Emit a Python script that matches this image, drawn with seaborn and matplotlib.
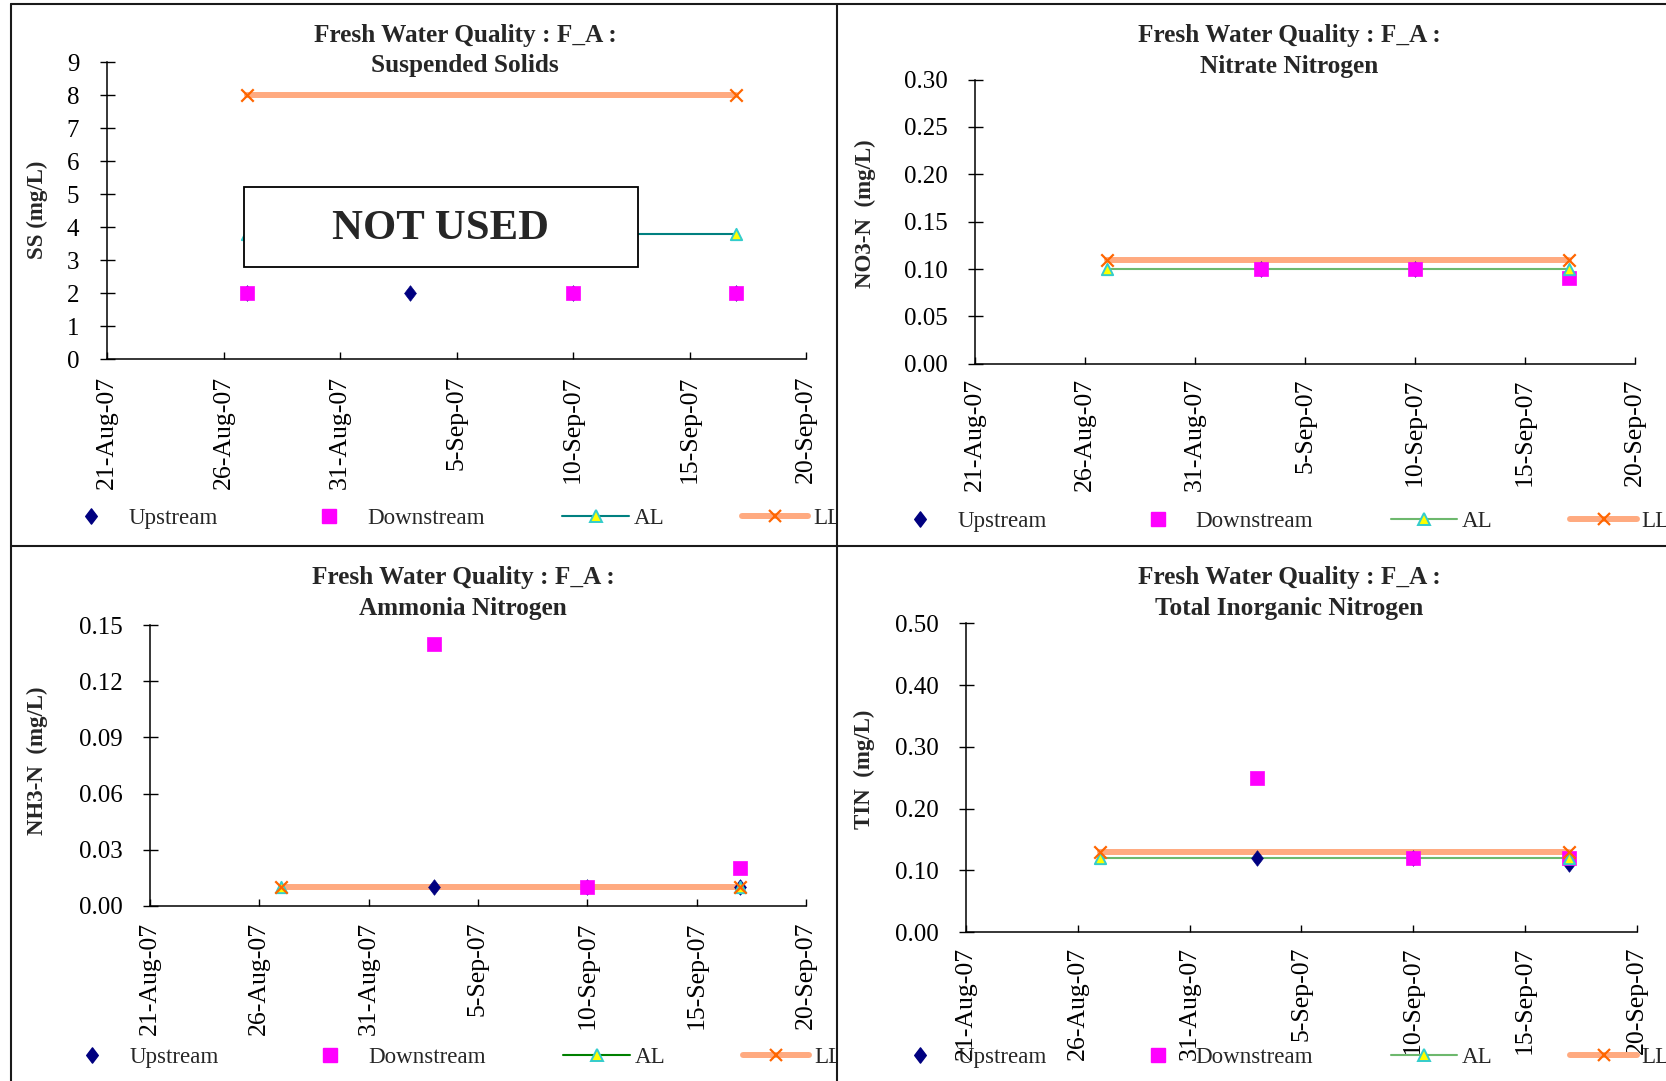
import numpy as np
import pandas as pd
import matplotlib
matplotlib.use("Agg")
import matplotlib.pyplot as plt
import seaborn as sns
from matplotlib.lines import Line2D
from matplotlib.patches import Rectangle
from matplotlib.path import Path
from matplotlib.markers import MarkerStyle
from matplotlib.transforms import Bbox, TransformedBbox

# ---------------- data ----------------
sample_dates = ["2007-08-27", "2007-09-03", "2007-09-10", "2007-09-17"]
limit_dates = ["2007-08-27", "2007-09-17"]
xtick_dates = ["2007-08-21", "2007-08-26", "2007-08-31", "2007-09-05",
               "2007-09-10", "2007-09-15", "2007-09-20"]
xtick_labels = ["21-Aug-07", "26-Aug-07", "31-Aug-07", "5-Sep-07",
                "10-Sep-07", "15-Sep-07", "20-Sep-07"]
series_names = ["Upstream", "Downstream", "AL", "LL"]
title_line1 = "Fresh Water Quality : F_A :"

ss_title = "Suspended Solids"
ss_ylabel = "SS (mg/L)"
ss_upstream = [2, 2, 2, 2]
ss_downstream = [2, np.nan, 2, 2]
ss_al = [3.8, 3.8]
ss_ll = [8, 8]
ss_yticks = [0, 1, 2, 3, 4, 5, 6, 7, 8, 9]
ss_yticklabels = ["0", "1", "2", "3", "4", "5", "6", "7", "8", "9"]

no3_title = "Nitrate Nitrogen"
no3_ylabel = "NO3-N  (mg/L)"
no3_upstream = [np.nan, 0.10, 0.10, np.nan]
no3_downstream = [np.nan, 0.10, 0.10, 0.09]
no3_al = [0.10, 0.10]
no3_ll = [0.11, 0.11]
no3_yticks = [0.0, 0.05, 0.10, 0.15, 0.20, 0.25, 0.30]
no3_yticklabels = ["0.00", "0.05", "0.10", "0.15", "0.20", "0.25", "0.30"]

nh3_title = "Ammonia Nitrogen"
nh3_ylabel = "NH3-N  (mg/L)"
nh3_upstream = [np.nan, 0.01, 0.01, 0.01]
nh3_downstream = [np.nan, 0.14, 0.01, 0.02]
nh3_al = [0.01, 0.01]
nh3_ll = [0.01, 0.01]
nh3_yticks = [0.0, 0.03, 0.06, 0.09, 0.12, 0.15]
nh3_yticklabels = ["0.00", "0.03", "0.06", "0.09", "0.12", "0.15"]

tin_title = "Total Inorganic Nitrogen"
tin_ylabel = "TIN  (mg/L)"
tin_upstream = [np.nan, 0.12, 0.12, 0.11]
tin_downstream = [np.nan, 0.25, 0.12, 0.12]
tin_al = [0.12, 0.12]
tin_ll = [0.13, 0.13]
tin_yticks = [0.0, 0.10, 0.20, 0.30, 0.40, 0.50]
tin_yticklabels = ["0.00", "0.10", "0.20", "0.30", "0.40", "0.50"]

not_used_text = "NOT USED"

# ---------------- style ----------------
sns.set_theme(style="white")
plt.rcParams["font.family"] = ["Liberation Serif", "DejaVu Serif"]
plt.rcParams["axes.linewidth"] = 1.1

W, H = 1666, 1081
fig = plt.figure(figsize=(W / 100, H / 100), dpi=100)
fig.patch.set_facecolor("white")


def fx(x):
    return x / W


def fy(y):
    return 1 - y / H


UP_COLOR = "#000080"
DOWN_COLOR = "#FF00FF"
LL_COLOR = "#FFAA80"
LLX_COLOR = "#FF6600"
TRI_FACE = "#FFFF00"
TRI_EDGE = "#33CCCC"

diamond = MarkerStyle(Path([(0, 1), (0.76, 0), (0, -1), (-0.76, 0), (0, 1)],
                           [1, 2, 2, 2, 79]))

panels = [
    dict(left=107, right=806, top=62.4, bottom=359.5,
         up=ss_upstream, down=ss_downstream, al=ss_al, ll=ss_ll,
         yt=ss_yticks, ytl=ss_yticklabels, title=ss_title, ylabel=ss_ylabel,
         al_color="#008080", title_x=465, title_y=(35.5, 65.5),
         ylab_xy=(37.5, 210), leg_x=58, leg_y=518, xpad=11.5, clip=836.5),
    dict(left=975, right=1635, top=79.6, bottom=363.7,
         up=no3_upstream, down=no3_downstream, al=no3_al, ll=no3_ll,
         yt=no3_yticks, ytl=no3_yticklabels, title=no3_title, ylabel=no3_ylabel,
         al_color="#6DB86D", title_x=1289.5, title_y=(35.5, 66),
         ylab_xy=(865, 214), leg_x=886.5, leg_y=521, xpad=10.5, clip=None),
    dict(left=150, right=806, top=625.2, bottom=905.8,
         up=nh3_upstream, down=nh3_downstream, al=nh3_al, ll=nh3_ll,
         yt=nh3_yticks, ytl=nh3_yticklabels, title=nh3_title, ylabel=nh3_ylabel,
         al_color="#008000", title_x=463, title_y=(577.5, 608.5),
         ylab_xy=(37.5, 761), leg_x=59, leg_y=1057.6, xpad=11.5, clip=836.5),
    dict(left=966, right=1636.5, top=623.2, bottom=932.3,
         up=tin_upstream, down=tin_downstream, al=tin_al, ll=tin_ll,
         yt=tin_yticks, ytl=tin_yticklabels, title=tin_title, ylabel=tin_ylabel,
         al_color="#6DB86D", title_x=1289.5, title_y=(577.5, 608.5),
         ylab_xy=(864.6, 769.5), leg_x=886.5, leg_y=1057.6, xpad=10.5, clip=None),
]

sd = pd.to_datetime(sample_dates)
ld = pd.to_datetime(limit_dates)
xt = pd.to_datetime(xtick_dates)

for p in panels:
    ax = fig.add_axes([fx(p["left"]), fy(p["bottom"]),
                       (p["right"] - p["left"]) / W,
                       (p["bottom"] - p["top"]) / H])
    ax.set_facecolor("white")

    # limit lines (drawn below the markers)
    sns.lineplot(x=ld, y=p["al"], ax=ax, color=p["al_color"], linewidth=1.5,
                 estimator=None, zorder=2, legend=False)
    sns.lineplot(x=ld, y=p["ll"], ax=ax, color=LL_COLOR, linewidth=4.3,
                 estimator=None, zorder=2.1, legend=False)

    # markers
    sns.scatterplot(x=sd, y=p["up"], ax=ax, marker=diamond, s=125,
                    color=UP_COLOR, edgecolor=UP_COLOR, linewidth=0.5,
                    zorder=3, legend=False)
    sns.scatterplot(x=sd, y=p["down"], ax=ax, marker="s", s=92,
                    color=DOWN_COLOR, edgecolor=DOWN_COLOR, linewidth=0.5,
                    zorder=3.1, legend=False)
    sns.scatterplot(x=ld, y=p["al"], ax=ax, marker="^", s=66,
                    color=TRI_FACE, edgecolor=TRI_EDGE, linewidth=1.4,
                    zorder=3.2, legend=False)
    sns.scatterplot(x=ld, y=p["ll"], ax=ax, marker="x", s=80,
                    color=LLX_COLOR, linewidth=1.6, zorder=3.3, legend=False)

    ax.set_xlim(xt[0], xt[-1])
    ax.set_ylim(p["yt"][0], p["yt"][-1])
    ax.set_xticks(xt, xtick_labels, rotation=90, fontsize=18.5)
    ax.set_yticks(p["yt"], p["ytl"], fontsize=18)
    ax.tick_params(axis="y", direction="inout", length=10.8, width=1.0,
                   pad=14.5, colors="black", left=True)
    ax.tick_params(axis="x", direction="in", length=5, width=1.0,
                   pad=p["xpad"], colors="black", bottom=True)
    for side in ["top", "right"]:
        ax.spines[side].set_visible(False)
    for side in ["left", "bottom"]:
        ax.spines[side].set_color("black")
    ax.set_xlabel("")
    ax.set_ylabel(p["ylabel"], fontsize=16.5, fontweight="bold")
    ax.yaxis.set_label_coords(fx(p["ylab_xy"][0]), fy(p["ylab_xy"][1]),
                              transform=fig.transFigure)
    ax.yaxis.label.set_va("center")

    # title
    fig.text(fx(p["title_x"]), fy(p["title_y"][0]), title_line1,
             ha="center", va="center", fontsize=18.2, fontweight="bold")
    fig.text(fx(p["title_x"]), fy(p["title_y"][1]), p["title"],
             ha="center", va="center", fontsize=18.2, fontweight="bold")

    # legend
    handles = [
        Line2D([], [], ls="none", marker=diamond, ms=11, color=UP_COLOR),
        Line2D([], [], ls="none", marker="s", ms=9.6, color=DOWN_COLOR),
        Line2D([], [], color=p["al_color"], lw=1.5, marker="^", ms=8.2,
               mfc=TRI_FACE, mec=TRI_EDGE, mew=1.4),
        Line2D([], [], color=LL_COLOR, lw=4.3, marker="x", ms=9,
               mec=LLX_COLOR, mew=1.6),
    ]
    leg = fig.legend(handles, series_names, loc="center left",
                     bbox_to_anchor=(fx(p["leg_x"]), fy(p["leg_y"])),
                     bbox_transform=fig.transFigure, ncol=4, frameon=False,
                     fontsize=16.6, handlelength=2.88, handletextpad=0.2,
                     columnspacing=3.37, borderpad=0, borderaxespad=0,
                     numpoints=1)
    if p["clip"] is not None:
        cb = TransformedBbox(Bbox([[0, 0], [fx(p["clip"]), 1]]), fig.transFigure)
        for t in leg.get_texts():
            t.set_clip_box(cb)
            t.set_clip_on(True)

# "NOT USED" box on the suspended solids panel
fig.add_artist(Rectangle((fx(244), fy(267)), (638 - 244) / W, (267 - 187) / H,
                         transform=fig.transFigure, facecolor="white",
                         edgecolor="black", linewidth=1.3, zorder=5))
fig.text(fx(441), fy(229), not_used_text, ha="center", va="center",
         fontsize=30.8, fontweight="bold", zorder=6)

# panel borders
border_kw = dict(transform=fig.transFigure, color="#1a1a1a", linewidth=1.5,
                 zorder=10)
fig.add_artist(Line2D([fx(10.7), fx(10.7)], [fy(4), fy(1081)], **border_kw))
fig.add_artist(Line2D([fx(10.7), fx(1666)], [fy(4), fy(4)], **border_kw))
fig.add_artist(Line2D([fx(836.5), fx(836.5)], [fy(4), fy(1081)], **border_kw))
fig.add_artist(Line2D([fx(10.7), fx(1666)], [fy(546), fy(546)], **border_kw))

fig.savefig("out.png", dpi=100, facecolor="white")
